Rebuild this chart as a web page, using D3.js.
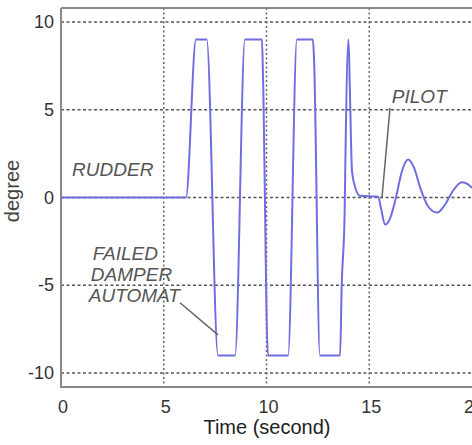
<!DOCTYPE html>
<html lang="en">
	<head>
		<meta charset="utf-8">
		<title>Rudder response</title>
		<style type="text/css">
			body { margin: 0; background: #fff; }
			text { font-family: "Liberation Sans", Arial, sans-serif; }
		</style>
	</head>
	<body>
		<script src="https://d3js.org/d3.v7.min.js"></script>
		<script>
			//Width and height
			var w = 472;
			var h = 445;

			//Time (s) and rudder angle (degree)
			var time = [0, 6.08, 6.57, 7.09, 7.64, 8.47, 8.95, 9.78, 9.83, 10.07, 11.05, 11.48,
						12.26, 12.31, 12.6, 13.58, 13.66, 13.80, 13.84, 13.99, 14.06, 14.16, 14.31,
						14.55, 15.43, 15.57, 15.77, 16.01, 16.30, 16.59, 16.89, 17.18, 17.47, 17.86,
						18.30, 18.69, 19.03, 19.51, 19.81, 20.0];
			var rudder = [0, 0, 9, 9, -9, -9, 9, 9, 6.9, -9, -9, 9,
						9, 8, -9, -9, -5, -1, 2.2, 9, 6, 1.5, 0.6,
						0.1, 0.05, -0.6, -1.54, -1.2, 0, 1.5, 2.17, 1.7, 0.6, -0.5,
						-0.86, -0.4, 0.3, 0.87, 0.75, 0.55];

			var xTicks = [0, 5, 10, 15, 20];
			var yTicks = [-10, -5, 0, 5, 10];

			var data = time.map(function(t, i) { return [t, rudder[i]]; });

			var xScale = d3.scaleLinear().domain([0, 20]).range([61, 472]);
			var yScale = d3.scaleLinear().domain([-10.8, 10.8]).range([387, 8]);

			var svg = d3.select("body")
						.append("svg")
						.attr("width", w)
						.attr("height", h);

			svg.append("defs").append("clipPath").attr("id", "plot")
				.append("rect")
				.attr("x", 61).attr("y", 8)
				.attr("width", 411).attr("height", 379);

			//Grid
			svg.selectAll("line.hgrid")
				.data(yTicks)
				.enter()
				.append("line")
				.attr("class", "hgrid")
				.attr("x1", 61).attr("x2", w)
				.attr("y1", function(d) { return yScale(d); })
				.attr("y2", function(d) { return yScale(d); })
				.attr("stroke", "#555")
				.attr("stroke-width", 1.5)
				.attr("stroke-dasharray", "3,2.5");

			svg.selectAll("line.vgrid")
				.data([5, 10, 15])
				.enter()
				.append("line")
				.attr("class", "vgrid")
				.attr("y1", 8).attr("y2", 387)
				.attr("x1", function(d) { return xScale(d); })
				.attr("x2", function(d) { return xScale(d); })
				.attr("stroke", "#666")
				.attr("stroke-width", 1.5)
				.attr("stroke-dasharray", "2,2.5");

			//Frame
			svg.append("path")
				.attr("d", "M61,8H472M61,8V387H472")
				.attr("fill", "none")
				.attr("stroke", "#888")
				.attr("stroke-width", 2);

			//Rudder line
			var line = d3.line()
				.x(function(d) { return xScale(d[0]); })
				.y(function(d) { return yScale(d[1]); })
				.curve(d3.curveMonotoneX);

			svg.append("path")
				.datum(data)
				.attr("clip-path", "url(#plot)")
				.attr("d", line)
				.attr("fill", "none")
				.attr("stroke", "#6e6ee0")
				.attr("stroke-width", 2);

			//Tick labels
			svg.selectAll("text.ytick")
				.data(yTicks)
				.enter()
				.append("text")
				.attr("class", "ytick")
				.text(function(d) { return d; })
				.attr("text-anchor", "end")
				.attr("x", 54)
				.attr("y", function(d) { return yScale(d) + 6; })
				.attr("font-size", "18px")
				.attr("fill", "#333");

			svg.selectAll("text.xtick")
				.data(xTicks)
				.enter()
				.append("text")
				.attr("class", "xtick")
				.text(function(d) { return d; })
				.attr("text-anchor", "middle")
				.attr("x", function(d) { return xScale(d) + 2; })
				.attr("y", 413)
				.attr("font-size", "18px")
				.attr("fill", "#333");

			//Axis titles
			svg.append("text")
				.text("Time (second)")
				.attr("text-anchor", "middle")
				.attr("x", 267).attr("y", 434)
				.attr("font-size", "20px")
				.attr("fill", "#222");

			svg.append("text")
				.text("degree")
				.attr("text-anchor", "middle")
				.attr("transform", "translate(19,191) rotate(-90)")
				.attr("font-size", "20px")
				.attr("fill", "#444");

			//Annotations
			function note(lines, t, v) {
				svg.append("text")
					.attr("x", xScale(t)).attr("y", yScale(v))
					.attr("font-size", "19px")
					.attr("font-style", "italic")
					.attr("fill", "#555")
					.selectAll("tspan")
					.data(lines)
					.enter()
					.append("tspan")
					.attr("x", function(d, i) { return xScale(t) - i * 2; })
					.attr("dy", function(d, i) { return i ? 21 : 0; })
					.text(function(d) { return d; });
			}
			function leader(t1, v1, t2, v2) {
				svg.append("line")
					.attr("x1", xScale(t1)).attr("y1", yScale(v1))
					.attr("x2", xScale(t2)).attr("y2", yScale(v2))
					.attr("stroke", "#666")
					.attr("stroke-width", 1.5);
			}

			note(["RUDDER"], 0.54, 1.22);
			note(["PILOT"], 16.1, 5.4);
			note(["FAILED", "DAMPER", "AUTOMAT"], 1.55, -3.55);
			leader(16.01, 5.1, 15.62, 0);
			leader(5.79, -6.0, 7.64, -7.83);
		</script>
	</body>
</html>
